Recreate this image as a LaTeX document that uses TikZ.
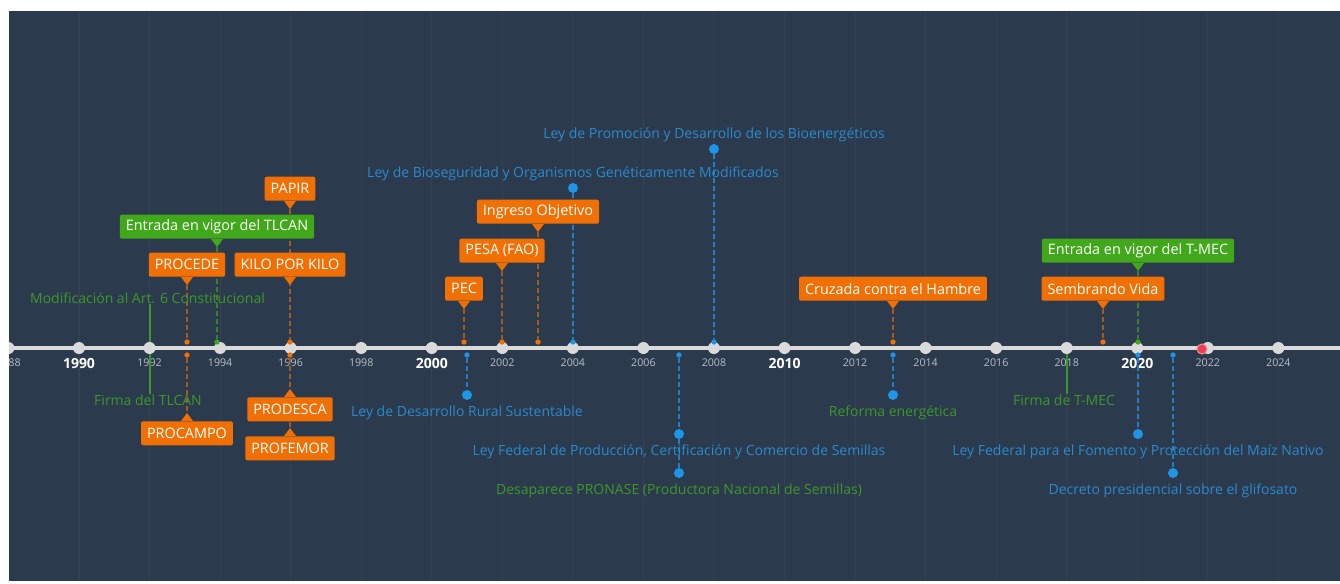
\documentclass[tikz,border=0pt]{standalone}
\usepackage{fontspec}
\setmainfont{Open Sans}
\usetikzlibrary{positioning}
\definecolor{NIGHT}{RGB}{44,58,77}
\definecolor{GRID}{RGB}{52,66,86}
\definecolor{AXIS}{RGB}{218,218,218}
\definecolor{YEAR}{RGB}{185,190,198}
\definecolor{ORANGE}{RGB}{240,112,6}
\definecolor{GREENBOX}{RGB}{64,168,26}
\definecolor{GREENTXT}{RGB}{60,152,40}
\definecolor{BLUETXT}{RGB}{42,138,205}
\definecolor{BLUEDOT}{RGB}{30,150,232}
\definecolor{TODAY}{RGB}{232,62,82}
\tikzset{
BOX/.style={fill=#1, text=white, rounded corners=1.5pt, minimum height=18pt, inner xsep=4.5pt, inner ysep=0pt, font=\fontsize{10.8}{12}\selectfont},
STEM/.style={draw=#1, line width=1.4pt, dash pattern=on 3.5pt off 2.5pt},
RULE/.style={draw=GREENTXT, line width=1.5pt},
TXT/.style={text=#1, inner sep=0pt, font=\fontsize{10.5}{12}\selectfont},
DOT/.style={circle, fill=#1, inner sep=0pt, minimum size=7.5pt},
PIN/.style={circle, fill=#1, inner sep=0pt, minimum size=4pt},
TICK/.style={circle, fill=AXIS, inner sep=0pt, minimum size=9pt},
YR/.style={text=YEAR, font=\fontsize{8}{9}\selectfont, inner sep=0pt},
DECADE/.style={text=white, font=\bfseries\fontsize{10.5}{12}\selectfont, inner sep=0pt},
}
\newcommand{\boxtip}[3]{\fill[#1] ([xshift=-4.5pt]#2) -- (#3) -- ([xshift=4.5pt]#2) -- cycle;}

\begin{document}
\begin{tikzpicture}
[x=0.75pt, y=-0.75pt]
	\useasboundingbox (0,0) rectangle (1340,583);
	\fill[white] (0,0) rectangle (1340,583);
	\fill[NIGHT] (9,11) rectangle (1340,581);
	\begin{scope}
	\clip (9,11) rectangle (1340,581);
	\foreach \yr in {1988,1990,...,2024}
		\draw[GRID, line width=0.8pt] ({79+(\yr-1990)*35.275},11) -- ++(0,570);
	\coordinate (axL) at (9,348);
	\coordinate (axR) at (1340,348);
	\draw[AXIS, line width=3pt] (axL) -- (axR);
	\foreach \yr in {1988,1990,...,2024}
		\node[TICK] (t\yr) at ({79+(\yr-1990)*35.275},348) {};
	\foreach \yr in {1988,1992,1994,1996,1998,2002,2004,2006,2008,2012,2014,2016,2018,2022,2024}
		\node[YR, below=3pt of t\yr] (l\yr) {\yr};
	\foreach \yr in {1990,2000,2010,2020}
		\node[DECADE, below=3pt of t\yr] (l\yr) {\yr};

	\node[PIN=ORANGE] (p-procede) at (187,342) {};
	\node[PIN=GREENBOX] (p-tlcan) at (217,342) {};
	\node[PIN=ORANGE] (p-kilo) at (290,342) {};
	\node[PIN=ORANGE] (p-pec) at (464,342) {};
	\node[PIN=ORANGE] (p-pesa) at (502,342) {};
	\node[PIN=ORANGE] (p-ingreso) at (538,342) {};
	\node[PIN=BLUEDOT] (p-bioseg) at (573,342) {};
	\node[PIN=BLUEDOT] (p-bioen) at (714,342) {};
	\node[PIN=ORANGE] (p-cruzada) at (893,342) {};
	\node[PIN=ORANGE] (p-sembrando) at (1103,342) {};
	\node[PIN=GREENBOX] (p-tmec) at (1138,342) {};
	\node[PIN=ORANGE] (p-procampo) at (187,355) {};
	\node[PIN=ORANGE] (p-prodesca) at (290,355) {};
	\node[PIN=BLUEDOT] (p-ldrs) at (467,355) {};
	\node[PIN=BLUEDOT] (p-semillas) at (679,355) {};
	\node[PIN=BLUEDOT] (p-reforma) at (893,355) {};
	\node[PIN=BLUEDOT] (p-maiz) at (1138,355) {};
	\node[PIN=BLUEDOT] (p-glifo) at (1173,355) {};

	\node[DOT=BLUEDOT] (d-bioen) at (714,149) {};
	\node[DOT=BLUEDOT] (d-bioseg) at (573,188) {};
	\node[DOT=BLUEDOT] (d-ldrs) at (467,395) {};
	\node[DOT=BLUEDOT] (d-semillas) at (679,434) {};
	\node[DOT=BLUEDOT] (d-pronase) at (679,473) {};
	\node[DOT=BLUEDOT] (d-reforma) at (893,395) {};
	\node[DOT=BLUEDOT] (d-maiz) at (1138,434) {};
	\node[DOT=BLUEDOT] (d-glifo) at (1173,473) {};

	\coordinate (t-procede) at (187,285);
	\coordinate (t-tlcan) at (217,247);
	\coordinate (t-papir) at (290,209);
	\coordinate (t-kilo) at (290,285);
	\coordinate (t-pec) at (464,309);
	\coordinate (t-pesa) at (502,271);
	\coordinate (t-ingreso) at (538,232);
	\coordinate (t-cruzada) at (893,309);
	\coordinate (t-sembrando) at (1103,309);
	\coordinate (t-tmec) at (1138,271);
	\coordinate (t-procampo) at (187,413);
	\coordinate (t-prodesca) at (290,389);
	\coordinate (t-profemor) at (290,428);

	\path[STEM=ORANGE!60!NIGHT] (t-procede) -- (p-procede);
	\path[STEM=GREENBOX!65!NIGHT] (t-tlcan) -- (p-tlcan);
	\path[STEM=ORANGE!60!NIGHT] (t-papir) -- (p-kilo);
	\path[STEM=ORANGE!60!NIGHT] (t-pec) -- (p-pec);
	\path[STEM=ORANGE!60!NIGHT] (t-pesa) -- (p-pesa);
	\path[STEM=ORANGE!60!NIGHT] (t-ingreso) -- (p-ingreso);
	\path[STEM=ORANGE!60!NIGHT] (t-cruzada) -- (p-cruzada);
	\path[STEM=ORANGE!60!NIGHT] (t-sembrando) -- (p-sembrando);
	\path[STEM=GREENBOX!65!NIGHT] (t-tmec) -- (p-tmec);
	\path[STEM=ORANGE!60!NIGHT] (p-procampo) -- (t-procampo);
	\path[STEM=ORANGE!60!NIGHT] (p-prodesca) -- (t-profemor);
	\path[STEM=BLUEDOT!75!NIGHT] (d-bioen) -- (p-bioen);
	\path[STEM=BLUEDOT!75!NIGHT] (d-bioseg) -- (p-bioseg);
	\path[STEM=BLUEDOT!75!NIGHT] (p-ldrs) -- (d-ldrs);
	\path[STEM=BLUEDOT!75!NIGHT] (p-semillas) -- (d-semillas);
	\path[STEM=BLUEDOT!75!NIGHT] (d-semillas) -- (d-pronase);
	\path[STEM=BLUEDOT!75!NIGHT] (p-reforma) -- (d-reforma);
	\path[STEM=BLUEDOT!75!NIGHT] (p-maiz) -- (d-maiz);
	\path[STEM=BLUEDOT!75!NIGHT] (p-glifo) -- (d-glifo);

	\node[BOX=ORANGE, above=6pt of t-procede] (procede) {PROCEDE};
	\boxtip{ORANGE}{procede.south}{t-procede}
	\node[BOX=GREENBOX, above=6pt of t-tlcan] (tlcan) {Entrada en vigor del TLCAN};
	\boxtip{GREENBOX}{tlcan.south}{t-tlcan}
	\node[BOX=ORANGE, above=6pt of t-papir] (papir) {PAPIR};
	\boxtip{ORANGE}{papir.south}{t-papir}
	\node[BOX=ORANGE, above=6pt of t-kilo] (kilo) {KILO POR KILO};
	\boxtip{ORANGE}{kilo.south}{t-kilo}
	\node[BOX=ORANGE, above=6pt of t-pec] (pec) {PEC};
	\boxtip{ORANGE}{pec.south}{t-pec}
	\node[BOX=ORANGE, above=6pt of t-pesa] (pesa) {PESA (FAO)};
	\boxtip{ORANGE}{pesa.south}{t-pesa}
	\node[BOX=ORANGE, above=6pt of t-ingreso] (ingreso) {Ingreso Objetivo};
	\boxtip{ORANGE}{ingreso.south}{t-ingreso}
	\node[BOX=ORANGE, above=6pt of t-cruzada] (cruzada) {Cruzada contra el Hambre};
	\boxtip{ORANGE}{cruzada.south}{t-cruzada}
	\node[BOX=ORANGE, above=6pt of t-sembrando] (sembrando) {Sembrando Vida};
	\boxtip{ORANGE}{sembrando.south}{t-sembrando}
	\node[BOX=GREENBOX, above=6pt of t-tmec] (tmec) {Entrada en vigor del T-MEC};
	\boxtip{GREENBOX}{tmec.south}{t-tmec}
	\node[BOX=ORANGE, below=6pt of t-procampo] (procampo) {PROCAMPO};
	\boxtip{ORANGE}{procampo.north}{t-procampo}
	\node[BOX=ORANGE, below=6pt of t-prodesca] (prodesca) {PRODESCA};
	\boxtip{ORANGE}{prodesca.north}{t-prodesca}
	\node[BOX=ORANGE, below=6pt of t-profemor] (profemor) {PROFEMOR};
	\boxtip{ORANGE}{profemor.north}{t-profemor}

	\node[TXT=BLUETXT, above=1.5pt of d-bioen] (bioen) {Ley de Promoción y Desarrollo de los Bioenergéticos};
	\node[TXT=BLUETXT, above=1.5pt of d-bioseg] (bioseg) {Ley de Bioseguridad y Organismos Genéticamente Modificados};
	\node[TXT=BLUETXT, below=4pt of d-ldrs] (ldrs) {Ley de Desarrollo Rural Sustentable};
	\node[TXT=BLUETXT, below=4pt of d-semillas] (semillas) {Ley Federal de Producción, Certificación y Comercio de Semillas};
	\node[TXT=GREENTXT, below=4pt of d-pronase] (pronase) {Desaparece PRONASE (Productora Nacional de Semillas)};
	\node[TXT=GREENTXT, below=4pt of d-reforma] (reforma) {Reforma energética};
	\node[TXT=BLUETXT, below=4pt of d-maiz] (maiz) {Ley Federal para el Fomento y Protección del Maíz Nativo};
	\node[TXT=BLUETXT, below=4pt of d-glifo] (glifo) {Decreto presidencial sobre el glifosato};

	\node[TXT=GREENTXT] (modif) at (147.5,298) {Modificación al Art. 6 Constitucional};
	\node[TXT=GREENTXT] (firma) at (148,400) {Firma del TLCAN};
	\node[TXT=GREENTXT] (firmat) at (1064,400) {Firma de T-MEC};
	\draw[RULE] (modif.south -| t1992) -- (t1992);
	\draw[RULE] (t1992) -- (firma.north -| t1992);
	\draw[RULE] (t2018) -- (firmat.north -| t2018);

	\node[circle, fill=TODAY, draw=TODAY!60!white, line width=0.8pt, minimum size=7.5pt, inner sep=0pt] (today) at (1202,349) {};
	\end{scope}
\end{tikzpicture}
\end{document}
